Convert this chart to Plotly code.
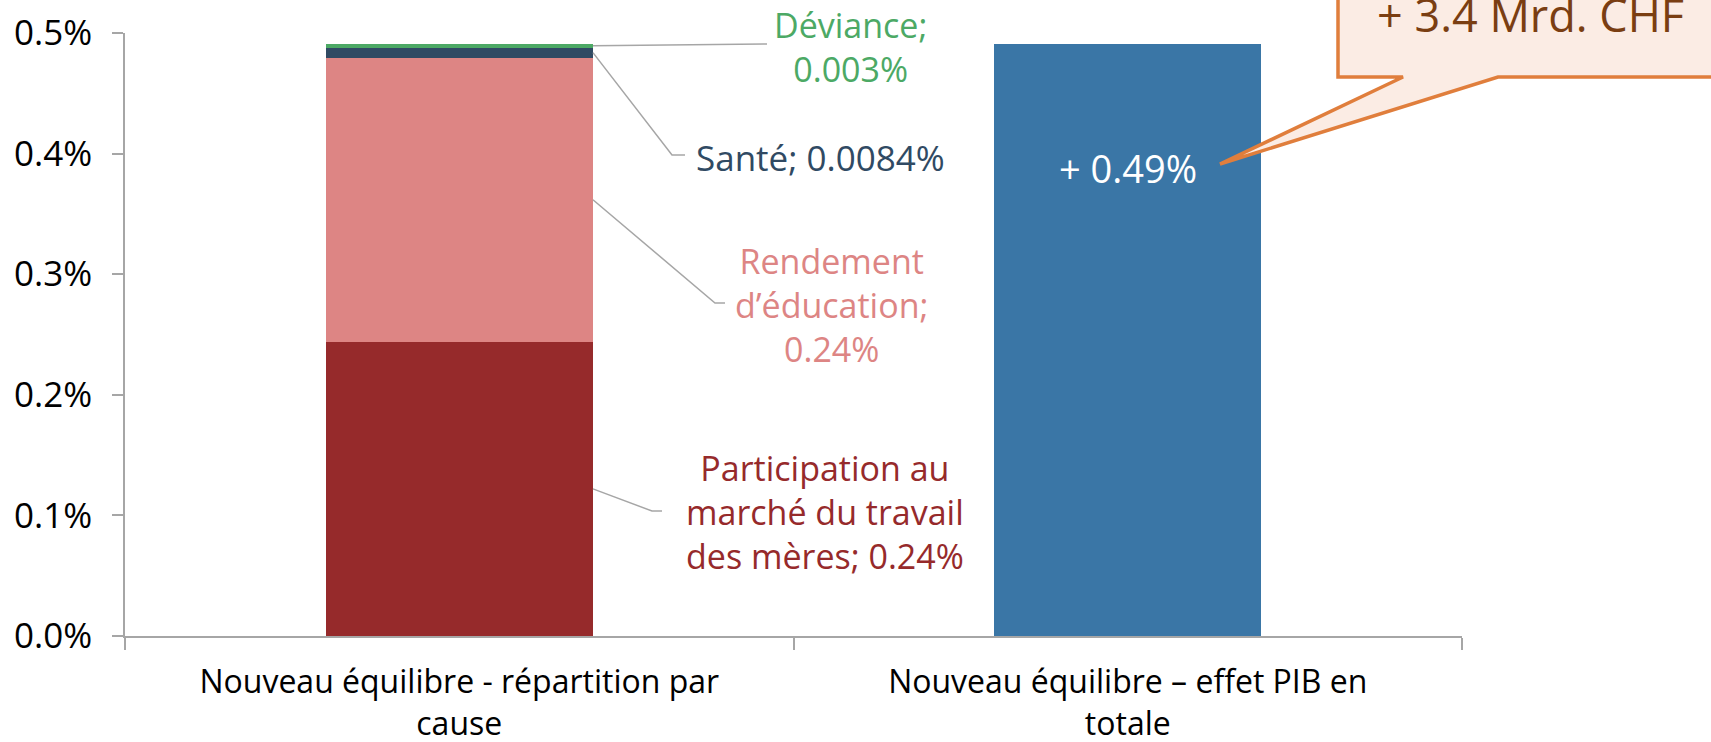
import plotly.graph_objects as go

# ---- data (values in fraction, 0.0049 = 0.49%) ----
categories = ["Nouveau équilibre - répartition par<br>cause",
              "Nouveau équilibre – effet PIB en<br>totale"]
series_names = ["Participation au marché du travail des mères", "Rendement d’éducation", "Santé", "Déviance"]
participation = [0.00244, None]
rendement = [0.002355, None]
sante = [0.000084, None]
deviance = [0.00003, None]
total = [None, 0.00491]
label_texts = ["Participation au<br>marché du travail<br>des mères; 0.24%",
               "Rendement<br>d’éducation;<br>0.24%",
               "Santé; 0.0084%",
               "Déviance;<br>0.003%"]
total_label = "+ 0.49%"
callout_label = "+ 3.4 Mrd. CHF"
y_ticks = [0, 0.001, 0.002, 0.003, 0.004, 0.005]

colors = ["#962A2B", "#DD8584", "#304A63", "#4CA965"]
total_color = "#3A76A6"
FONT = "Open Sans"

W, H = 1711, 742
L, R, T, B = 125, 249, 33, 106
PW, PH = W - L - R, H - T - B
YMAX = 0.005
BARW = 0.4


def px(x):
    return (x - L) / PW


def py(y):
    return (H - B - y) / PH


fig = go.Figure()
stack = [participation, rendement, sante, deviance]
for name, vals, col in zip(series_names, stack, colors):
    fig.add_trace(go.Bar(x=categories, y=vals, name=name, marker_color=col,
                         marker_line_width=0, width=BARW))
fig.add_trace(go.Bar(x=categories, y=total, name="Total", marker_color=total_color,
                     marker_line_width=0, width=BARW))

# leader lines: start at bar's right edge, mid of each segment
bar_right_paper = (0 + 0.5 + BARW / 2) / 2
elbows = [((652, 511), (662, 511)),
          ((715, 303), (725, 303)),
          ((672, 155), (685, 155)),
          ((767, 44), (767, 44))]
cum = 0
shapes = []
annotations = []
label_pos = [(825, 512), (832, 305), (820, 158), (851, 47)]
label_sizes = [34, 34, 35, 34]
for i, vals in enumerate(stack):
    v = vals[0]
    mid = (cum + v / 2) / YMAX
    cum += v
    (ex, ey), (hx, hy) = elbows[i]
    path = f"M {bar_right_paper} {mid} L {px(ex)} {py(ey)} L {px(hx)} {py(hy)}"
    shapes.append(dict(type="path", xref="paper", yref="paper", path=path,
                       line=dict(color="#A6A6A6", width=1.5)))
    lx, ly = label_pos[i]
    annotations.append(dict(x=px(lx), y=py(ly), xref="paper", yref="paper",
                            text=label_texts[i], showarrow=False, align="center",
                            xanchor="center", yanchor="middle",
                            font=dict(family=FONT, size=label_sizes[i], color=colors[i])))

# total bar label
annotations.append(dict(x=1, y=py(168), xref="x", yref="paper", text=total_label,
                        showarrow=False, xanchor="center", yanchor="middle",
                        font=dict(family=FONT, size=38, color="white")))

# callout bubble
pts = [(1338, -30), (1338, 77), (1403, 77), (1220, 164), (1498, 77), (1740, 77), (1740, -30)]
path = "M " + " L ".join(f"{px(a)} {py(b)}" for a, b in pts) + " Z"
shapes.append(dict(type="path", xref="paper", yref="paper", path=path,
                   fillcolor="#FBECE4", line=dict(color="#E07E3C", width=3.5), layer="above"))
annotations.append(dict(x=px(1530), y=py(15), xref="paper", yref="paper", text=callout_label,
                        showarrow=False, xanchor="center", yanchor="middle",
                        font=dict(family=FONT, size=45, color="#7A3E12")))

fig.update_layout(
    width=W, height=H, barmode="stack", bargap=0.6, showlegend=False,
    margin=dict(l=L, r=R, t=T, b=B, pad=0, autoexpand=False),
    plot_bgcolor="white", paper_bgcolor="white",
    font=dict(family=FONT, size=34, color="black"),
    shapes=shapes, annotations=annotations,
)
fig.update_yaxes(range=[0, YMAX], tickvals=y_ticks, tickformat=".1%", showgrid=False,
                 zeroline=False, showline=True, linecolor="#A6A6A6", linewidth=1.5,
                 ticks="outside", ticklen=11, tickcolor="#A6A6A6", tickwidth=1.5,
                 automargin=False,
                 ticklabelstandoff=13, tickfont=dict(family=FONT, size=35, color="black"))
fig.update_xaxes(type="category", showgrid=False, showline=True, linecolor="#A6A6A6",
                 linewidth=1.5, ticks="outside", ticklen=12, tickcolor="#A6A6A6", tickwidth=1.5,
                 tickson="boundaries", ticklabelstandoff=17, automargin=False,
                 tickfont=dict(family=FONT, size=32, color="black"))

fig.write_html("out.html", config={"displayModeBar": False},
               post_script="document.body.style.margin='0';document.body.style.overflow='hidden';")
